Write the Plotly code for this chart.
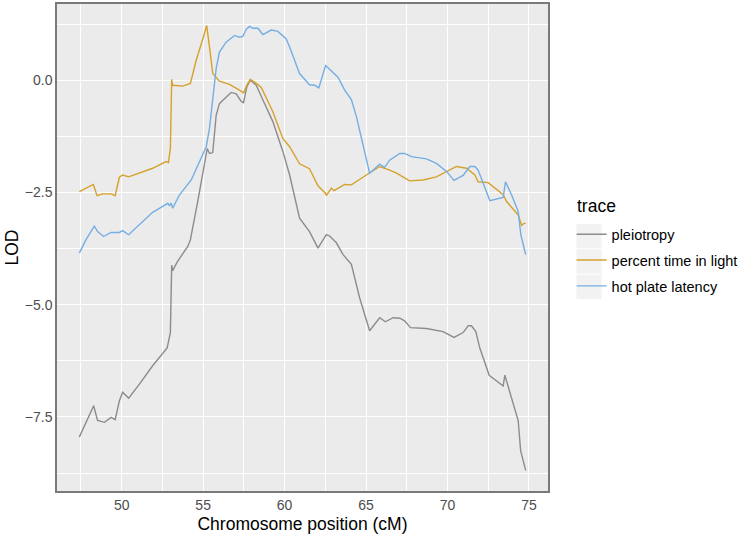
import plotly.graph_objects as go

# ---- data ----
pleio_x = [47.4, 48.28, 48.52, 48.94, 49.35, 49.6, 49.86, 50.06, 50.43, 51.09, 51.9, 52.79, 52.99, 53.07,
           53.13, 53.44, 54.06, 54.22, 54.67, 55.25, 55.39, 55.59, 55.8, 56.0, 56.31, 56.72, 57.03, 57.34,
           57.48, 57.68, 57.89, 58.26, 58.67, 59.28, 59.9, 60.31, 60.92, 61.53, 62.05, 62.56, 62.77, 63.18,
           63.58, 64.1, 64.61, 65.22, 65.84, 66.19, 66.66, 67.07, 67.37, 67.73, 68.71, 69.73, 70.4, 70.96,
           71.27, 71.47, 71.74, 71.98, 72.56, 73.42, 73.52, 73.93, 74.34, 74.49, 74.8]
pleio_y = [-7.95, -7.25, -7.58, -7.62, -7.51, -7.56, -7.14, -6.95, -7.08, -6.77, -6.36, -5.96, -5.62, -4.12,
           -4.24, -4.03, -3.70, -3.55, -2.70, -1.52, -1.63, -1.61, -0.78, -0.52, -0.41, -0.27, -0.30, -0.47,
           -0.50, -0.15, 0.0, -0.11, -0.44, -0.92, -1.59, -2.11, -3.07, -3.37, -3.74, -3.44, -3.47, -3.62,
           -3.88, -4.10, -4.85, -5.58, -5.29, -5.38, -5.29, -5.30, -5.36, -5.51, -5.53, -5.60, -5.73, -5.62,
           -5.47, -5.47, -5.60, -5.96, -6.57, -6.81, -6.57, -7.06, -7.58, -8.25, -8.69]

light_x = [47.4, 48.26, 48.49, 48.83, 49.35, 49.6, 49.86, 50.06, 50.43, 51.09, 51.9, 52.73, 52.87, 52.99,
           53.07, 53.13, 53.75, 54.22, 54.57, 54.98, 55.22, 55.43, 55.59, 56.0, 56.62, 57.23, 57.48, 57.68,
           57.89, 58.16, 58.57, 59.28, 59.9, 60.31, 60.92, 61.53, 62.05, 62.52, 62.56, 62.87, 63.03, 63.69,
           64.1, 65.02, 65.84, 66.45, 66.87, 67.68, 68.5, 69.32, 69.94, 70.55, 71.17, 71.68, 71.88, 72.5,
           73.42, 73.63, 74.34, 74.55, 74.65, 74.8]
light_y = [-2.48, -2.32, -2.57, -2.53, -2.53, -2.57, -2.16, -2.11, -2.15, -2.07, -1.96, -1.81, -1.83, -1.52,
           0.02, -0.11, -0.13, -0.07, 0.44, 0.92, 1.22, 0.63, 0.15, -0.02, -0.09, -0.22, -0.28, -0.11,
           0.02, -0.04, -0.16, -0.70, -1.30, -1.48, -1.86, -1.97, -2.35, -2.52, -2.57, -2.40, -2.46, -2.32,
           -2.33, -2.11, -1.92, -2.00, -2.07, -2.24, -2.22, -2.15, -2.03, -1.92, -1.96, -2.11, -2.26, -2.28,
           -2.55, -2.70, -3.00, -3.23, -3.20, -3.18]

hot_x = [47.4, 47.81, 48.32, 48.52, 48.89, 49.35, 49.86, 50.06, 50.43, 51.09, 51.9, 52.52, 52.83, 52.93,
         53.04, 53.13, 53.55, 54.27, 54.78, 55.19, 55.39, 55.59, 55.8, 56.0, 56.41, 56.93, 57.23, 57.44,
         57.65, 57.85, 58.05, 58.36, 58.67, 59.18, 59.59, 60.1, 60.31, 60.92, 61.53, 61.84, 62.1, 62.52,
         62.93, 63.28, 63.69, 64.1, 64.41, 65.22, 65.84, 66.14, 66.45, 67.07, 67.37, 67.79, 68.71, 69.32,
         69.94, 70.4, 70.96, 71.37, 71.68, 71.88, 72.6, 73.42, 73.56, 73.93, 74.34, 74.5, 74.8]
hot_y = [-3.85, -3.55, -3.25, -3.37, -3.48, -3.39, -3.39, -3.35, -3.44, -3.22, -2.94, -2.81, -2.74, -2.79,
         -2.74, -2.85, -2.55, -2.22, -1.81, -1.48, -1.07, -0.48, 0.26, 0.63, 0.85, 1.00, 0.96, 0.98,
         1.14, 1.20, 1.16, 1.16, 1.02, 1.12, 1.09, 0.92, 0.74, 0.15, -0.10, -0.11, -0.17, 0.33,
         0.20, 0.07, -0.22, -0.43, -0.81, -2.07, -1.87, -1.94, -1.78, -1.63, -1.63, -1.70, -1.75, -1.85,
         -2.03, -2.23, -2.12, -1.92, -1.92, -2.00, -2.68, -2.61, -2.26, -2.55, -2.92, -3.44, -3.88]

trace_names = ["pleiotropy", "percent time in light", "hot plate latency"]
trace_colors = ["#8c8c8c", "#d6a12c", "#74aee4"]
legend_title = "trace"
x_tickvals = [50, 55, 60, 65, 70, 75]
y_tickvals = [-7.5, -5.0, -2.5, 0.0]

series = [(pleio_x, pleio_y), (light_x, light_y), (hot_x, hot_y)]

fig = go.Figure()
for i, ((xs, ys), name, col) in enumerate(zip(series, trace_names, trace_colors)):
    fig.add_trace(go.Scatter(x=xs, y=ys, mode="lines", name=name, legendgroup=f"g{i}",
                             line=dict(color=col, width=1.4)))

FONT = "Liberation Sans, Arial, Helvetica, sans-serif"

# legend key backgrounds (ggplot-style)
key_rows = [0.5235, 0.4714, 0.4192]
for yc in key_rows:
    fig.add_shape(type="rect", xref="paper", yref="paper", x0=1.058, x1=1.109,
                  y0=yc - 0.025, y1=yc + 0.025, fillcolor="#f2f2f2", line=dict(width=0), layer="below")

fig.add_annotation(text=legend_title, xref="paper", yref="paper", x=1.056, y=0.585,
                   xanchor="left", yanchor="middle", showarrow=False,
                   font=dict(size=17.5, color="black", family=FONT))

fig.update_layout(
    width=745, height=534,
    margin=dict(l=57, r=197, t=2, b=43),
    paper_bgcolor="white", plot_bgcolor="#ebebeb",
    font=dict(family=FONT, color="black"),
    showlegend=True,
    legend=dict(
        font=dict(size=14.5, color="black"),
        x=1.048, xanchor="left", y=0.560, yanchor="top",
        bgcolor="rgba(0,0,0,0)", tracegroupgap=4,
    ),
    xaxis=dict(
        range=[46.03, 76.17], tickvals=x_tickvals, ticktext=[str(v) for v in x_tickvals],
        showgrid=True, gridcolor="white", gridwidth=1.1,
        minor=dict(dtick=2.5, tick0=47.5, showgrid=True, gridcolor="white", gridwidth=0.5),
        zeroline=False, ticks="", showline=True, linecolor="#7a7a7a", linewidth=1.5, mirror=True,
        tickfont=dict(size=14, color="#4d4d4d"),
        title=dict(text="Chromosome position (cM)", font=dict(size=17.5, color="black"), standoff=6),
    ),
    yaxis=dict(
        range=[-9.15, 1.70], tickvals=y_tickvals, ticktext=["\u22127.5", "\u22125.0", "\u22122.5", "0.0"],
        showgrid=True, gridcolor="white", gridwidth=1.1,
        minor=dict(dtick=1.25, tick0=0, showgrid=True, gridcolor="white", gridwidth=0.5),
        zeroline=False, ticks="", showline=True, linecolor="#7a7a7a", linewidth=1.5, mirror=True,
        tickfont=dict(size=14, color="#4d4d4d"),
        title=dict(text="LOD", font=dict(size=17.5, color="black"), standoff=2),
    ),
)

fig.write_html("out.html", config={"displayModeBar": False},
               post_script="document.body.style.margin='0';")
